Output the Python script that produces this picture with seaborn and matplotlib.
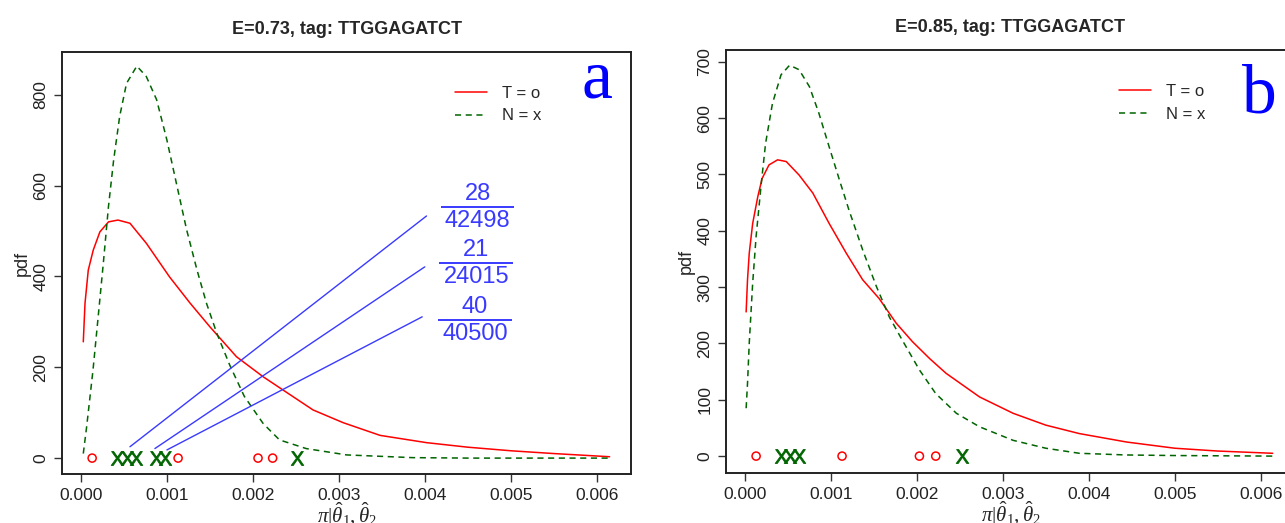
"""Densidades posteriores de pi para la etiqueta TTGGAGATCT (paneles a y b)."""

import matplotlib
matplotlib.use("Agg")

import matplotlib.pyplot as plt
import numpy as np
import pandas as pd
import seaborn as sns

# ---- datos (x en unidades de 1e-3) ----
titles = ["E=0.73, tag: TTGGAGATCT", "E=0.85, tag: TTGGAGATCT"]
panel_letters = ["a", "b"]
letter_y = [0.891, 0.853]

a_t_x = [0.027, 0.047, 0.085, 0.143, 0.22, 0.32, 0.43, 0.57, 0.76, 1.03, 1.27,
         1.50, 1.81, 2.12, 2.35, 2.70, 3.05, 3.48, 4.02, 4.50, 5.01, 5.50, 6.15]
a_t_y = [256, 341, 414, 458, 498, 520, 524, 517, 473, 399, 341,
         289, 223, 179, 150, 106, 78, 50, 34, 24, 16, 10, 3]
a_n_x = [0.027, 0.066, 0.14, 0.20, 0.26, 0.32, 0.38, 0.45, 0.53, 0.65, 0.76,
         0.88, 1.00, 1.11, 1.23, 1.35, 1.46, 1.58, 1.73, 1.90, 2.12, 2.31,
         2.62, 3.09, 3.86, 4.50, 6.15]
a_n_y = [10, 69, 194, 311, 429, 554, 656, 752, 825, 863, 840,
         789, 700, 605, 502, 414, 341, 275, 205, 136, 76, 40,
         21, 7, 1, 0, 0]

b_t_x = [0.014, 0.03, 0.05, 0.09, 0.15, 0.20, 0.28, 0.38, 0.48, 0.63, 0.79,
         0.98, 1.18, 1.37, 1.56, 1.76, 1.95, 2.15, 2.34, 2.73, 3.12, 3.50,
         3.89, 4.44, 5.00, 5.50, 6.14]
b_t_y = [256, 313, 360, 413, 461, 493, 517, 526, 523, 499, 467,
         413, 360, 313, 280, 236, 203, 173, 147, 105, 76, 55,
         40, 25, 14, 9, 5]
b_n_x = [0.014, 0.03, 0.05, 0.09, 0.13, 0.19, 0.24, 0.32, 0.42, 0.52, 0.63,
         0.75, 0.86, 0.98, 1.10, 1.21, 1.37, 1.53, 1.68, 1.83, 2.03, 2.22,
         2.46, 2.73, 3.12, 3.50, 3.89, 4.44, 5.00, 6.14]
b_n_y = [85, 129, 200, 307, 390, 484, 555, 626, 677, 694, 686,
         656, 609, 549, 490, 437, 366, 301, 247, 206, 153, 111,
         76, 52, 28, 14, 5, 2, 1, 0]

a_t_obs = [0.13, 1.13, 2.06, 2.23]
a_n_obs = [0.42, 0.53, 0.64, 0.87, 0.98, 2.51]
b_t_obs = [0.13, 1.13, 2.03, 2.22]
b_n_obs = [0.42, 0.53, 0.63, 2.53]

# segmentos azules del panel a y sus fracciones
seg_x0 = [0.57, 0.86, 1.00]
seg_y0 = [25, 21, 18]
seg_x1 = [4.02, 4.00, 3.97]
seg_y1 = [533, 421, 311]
frac_num = ["28", "21", "40"]
frac_den = ["42498", "24015", "40500"]
frac_bar_x0 = [4.19, 4.17, 4.15]
frac_bar_x1 = [5.04, 5.03, 5.02]
frac_bar_y = [553, 429, 304]

x_ticks = [0.000, 0.001, 0.002, 0.003, 0.004, 0.005, 0.006]
a_y_ticks = [0, 200, 400, 600, 800]
b_y_ticks = [0, 100, 200, 300, 400, 500, 600, 700]

RED = "#ff0000"
GREEN = "#006400"
BLUE = "#3a3aff"

sns.set_style("ticks")
plt.rcParams["font.family"] = ["Liberation Sans", "DejaVu Sans"]
plt.rcParams["mathtext.fontset"] = "custom"
plt.rcParams["mathtext.rm"] = "Liberation Serif"
plt.rcParams["mathtext.it"] = "Liberation Serif:italic"
plt.rcParams["mathtext.sf"] = "Liberation Sans"


def curve_df(xs, ys):
    return pd.DataFrame({"x": np.asarray(xs) * 1e-3, "y": ys})


def draw_panel(ax, t_x, t_y, n_x, n_y, t_obs, n_obs, title, letter, let_y,
               yticks, ylim):
    sns.lineplot(data=curve_df(t_x, t_y), x="x", y="y", ax=ax, color=RED,
                 linewidth=1.1, label="T = o", sort=False)
    sns.lineplot(data=curve_df(n_x, n_y), x="x", y="y", ax=ax, color=GREEN,
                 linewidth=1.1, label="N = x", sort=False)
    ax.lines[-1].set_dashes((4, 3))

    sns.scatterplot(x=np.asarray(t_obs) * 1e-3, y=np.zeros(len(t_obs)), ax=ax,
                    marker="o", s=34, facecolor="none", edgecolor=RED,
                    linewidth=1.1, zorder=4)
    sns.scatterplot(x=np.asarray(n_obs) * 1e-3, y=np.zeros(len(n_obs)), ax=ax,
                    marker="$\\mathsf{X}$", s=100, color=GREEN,
                    edgecolor=GREEN, linewidth=0.6, zorder=4)

    ax.set_xlim(-0.00022, 0.0064)
    ax.set_ylim(*ylim)
    ax.set_xticks(x_ticks)
    ax.set_xticklabels([f"{v:.3f}" for v in x_ticks])
    ax.set_yticks(yticks)
    ax.set_yticklabels([str(v) for v in yticks], rotation=90, va="center")
    ax.tick_params(axis="both", labelsize=12.5, length=6, width=1.0,
                   color="#333333", labelcolor="#222222", pad=4)
    for sp in ax.spines.values():
        sp.set_linewidth(1.4)
        sp.set_color("#222222")

    ax.set_title(title, fontsize=13, fontweight="bold", pad=13)
    ax.set_xlabel(r"$\pi|\hat{\theta}_1,\hat{\theta}_2$", fontsize=15, labelpad=-2)
    ax.set_ylabel("pdf", fontsize=13, labelpad=2)

    leg = ax.legend(loc="upper left", bbox_to_anchor=(0.665, 0.955), frameon=False,
                    fontsize=12, handlelength=1.9, handletextpad=0.9,
                    labelspacing=0.45)
    for line in leg.get_lines():
        line.set_linewidth(1.1)

    ax.text(0.968, let_y, letter, transform=ax.transAxes, ha="right",
            va="baseline", color="#0000ff", fontsize=50, family="Liberation Serif")


fig = plt.figure(figsize=(12.85, 5.23), dpi=100)
ax_a = fig.add_axes([0.0483, 0.0937, 0.4428, 0.8069])
ax_b = fig.add_axes([0.565, 0.0956, 0.4428, 0.8088])

draw_panel(ax_a, a_t_x, a_t_y, a_n_x, a_n_y, a_t_obs, a_n_obs,
           titles[0], panel_letters[0], letter_y[0], a_y_ticks, (-35, 894))
draw_panel(ax_b, b_t_x, b_t_y, b_n_x, b_n_y, b_t_obs, b_n_obs,
           titles[1], panel_letters[1], letter_y[1], b_y_ticks, (-30, 721))

# lineas azules hacia las fracciones
for x0, y0, x1, y1 in zip(seg_x0, seg_y0, seg_x1, seg_y1):
    ax_a.plot([x0 * 1e-3, x1 * 1e-3], [y0, y1], color=BLUE, linewidth=1.0)

for num, den, bx0, bx1, by in zip(frac_num, frac_den, frac_bar_x0,
                                  frac_bar_x1, frac_bar_y):
    ax_a.hlines(by, bx0 * 1e-3, bx1 * 1e-3, color=BLUE, linewidth=1.4)
    xc = (bx0 + bx1) / 2 * 1e-3
    ax_a.annotate(num, (xc, by), xytext=(0, 9.5), textcoords="offset points",
                  ha="center", va="center", color=BLUE, fontsize=17)
    ax_a.annotate(den, (xc, by), xytext=(0, -10), textcoords="offset points",
                  ha="center", va="center", color=BLUE, fontsize=17)

fig.savefig("out.png", dpi=100)
plt.close(fig)
